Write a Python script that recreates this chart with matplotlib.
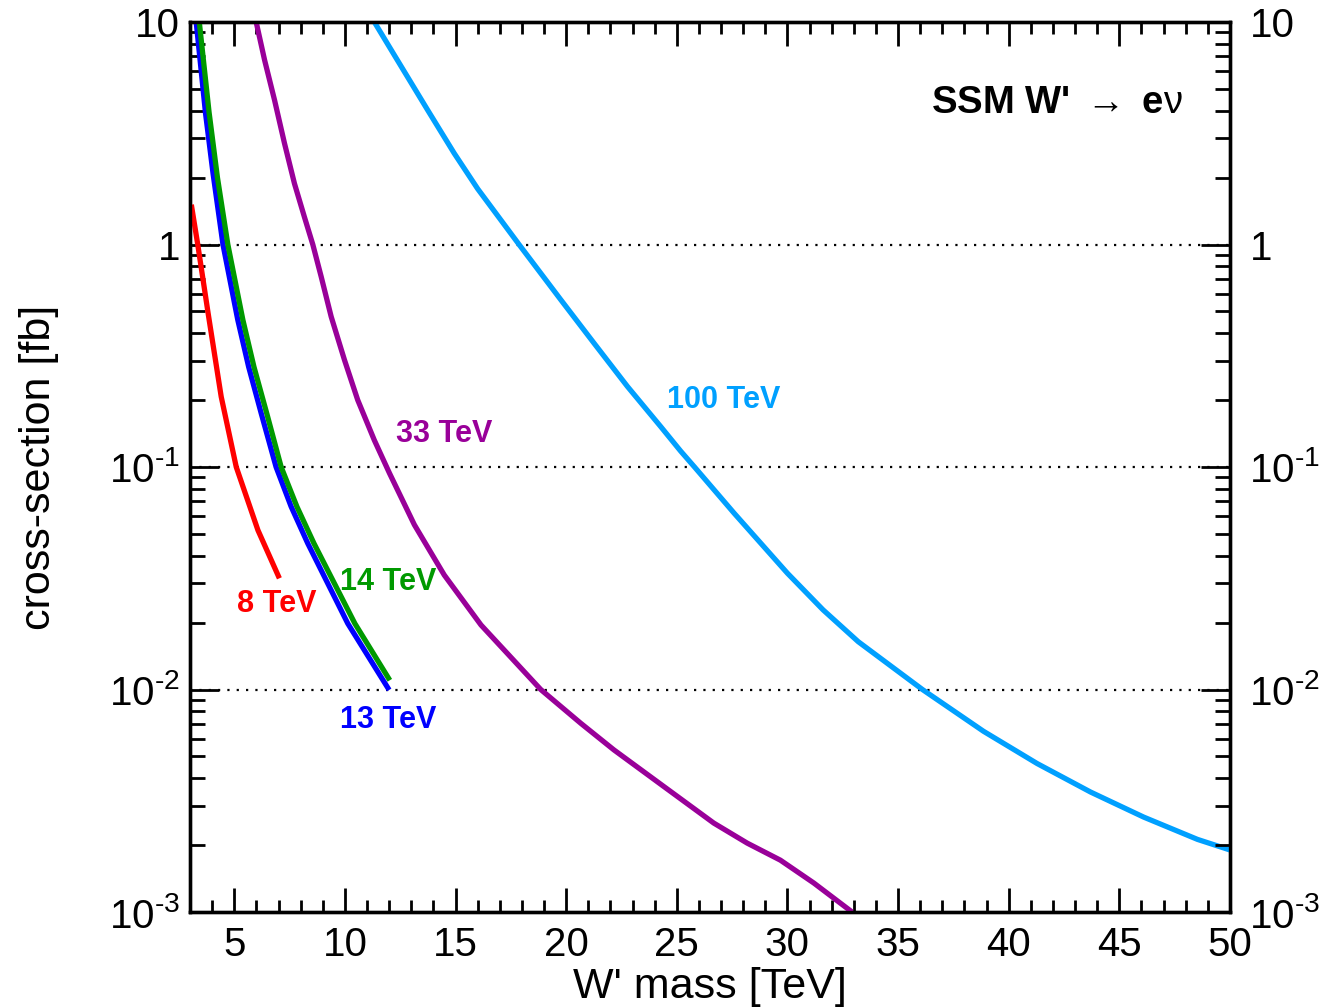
import matplotlib
matplotlib.use("Agg")
import matplotlib.pyplot as plt
from matplotlib.ticker import MultipleLocator, LogLocator, FixedLocator, FixedFormatter, NullFormatter

plt.rcParams['font.family'] = ['Liberation Sans', 'DejaVu Sans']
plt.rcParams['mathtext.fontset'] = 'custom'
plt.rcParams['mathtext.rm'] = 'Liberation Sans'
plt.rcParams['mathtext.it'] = 'Liberation Sans'
plt.rcParams['mathtext.bf'] = 'Liberation Sans:bold'

# W' mass [TeV] vs cross-section [fb]
mass_8 = [3.06, 3.35, 3.82, 4.41, 5.09, 6.07, 7.04]
xsec_8 = [1.51, 1.0, 0.49, 0.207, 0.1, 0.052, 0.0316]

mass_13 = [3.28, 3.7, 4.04, 4.49, 5.16, 5.65, 6.22, 6.89, 7.57, 8.32, 10.13, 12.0]
xsec_13 = [10, 3.9, 2.09, 1.0, 0.458, 0.282, 0.174, 0.1, 0.0664, 0.0454, 0.0198, 0.00995]

mass_14 = [3.42, 3.86, 4.24, 4.71, 5.39, 5.89, 6.47, 7.12, 7.83, 8.6, 10.45, 12.03]
xsec_14 = [10, 3.94, 2.0, 1.0, 0.458, 0.282, 0.174, 0.1, 0.0664, 0.0454, 0.0198, 0.011]

mass_33 = [5.99, 6.37, 6.82, 7.27, 7.72, 8.17, 8.55, 8.93, 9.38, 9.98, 10.58, 11.33,
           12.01, 13.14, 14.49, 16.15, 18.85, 20.66, 22.16, 24.42, 26.67, 28.18,
           29.68, 31.19, 32.92]
xsec_33 = [10, 6.75, 4.46, 2.85, 1.88, 1.33, 1.0, 0.716, 0.474, 0.303, 0.2, 0.132,
           0.094, 0.055, 0.0327, 0.0195, 0.01, 0.00705, 0.00535, 0.00366, 0.00251, 0.00204,
           0.00171, 0.00135, 0.001]

mass_100 = [11.33, 12.23, 13.74, 14.94, 16.0, 17.87, 19.76, 21.26, 22.77, 24.27, 25.17,
            25.8, 27.59, 30.0, 31.61, 33.2, 36.1, 38.86, 41.28, 43.7, 46.1, 48.53, 50.0]
xsec_100 = [10, 7.11, 4.02, 2.57, 1.78, 1.0, 0.564, 0.36, 0.23, 0.152, 0.118,
            0.1, 0.062, 0.0333, 0.0228, 0.0164, 0.01, 0.00649, 0.00465, 0.00346, 0.00267,
            0.00212, 0.0019]

ytick_vals = [1e-3, 1e-2, 1e-1, 1, 10]
ytick_labels = [r'$10^{\text{-}3}$', r'$10^{\text{-}2}$', r'$10^{\text{-}1}$', '1', '10']
grid_vals = [1e-2, 1e-1, 1]

curves = [
    (mass_8, xsec_8, '#ff0000', '8 TeV', 6.9, 0.0242),
    (mass_13, xsec_13, '#0000ff', '13 TeV', 11.95, 0.0073),
    (mass_14, xsec_14, '#009900', '14 TeV', 11.95, 0.0304),
    (mass_33, xsec_33, '#990099', '33 TeV', 14.48, 0.1406),
    (mass_100, xsec_100, '#00a0ff', '100 TeV', 27.1, 0.2),
]

fig = plt.figure(figsize=(13.21, 10.08), dpi=100)
ax = fig.add_axes([190/1321, 1 - 912/1008, 1040/1321, 890/1008])

for y in grid_vals:
    ax.axhline(y, color='black', lw=1.6, ls=(0, (1, 3.2)), zorder=1)

for m, xs, col, lab, lx, ly in curves:
    ax.plot(m, xs, color=col, lw=3.8, solid_capstyle='butt', solid_joinstyle='round', zorder=3)
    ax.text(lx, ly, lab, color=col, fontsize=22, fontweight='bold',
            ha='center', va='center')

ax.text(0.955, 0.909, r"SSM W' $\rightarrow$ e$\nu$", transform=ax.transAxes,
        fontsize=27.5, fontweight='bold', ha='right', va='center')

ax.set_yscale('log')
ax.set_xlim(3, 50)
ax.set_ylim(1e-3, 10)

ax.xaxis.set_major_locator(MultipleLocator(5))
ax.xaxis.set_minor_locator(MultipleLocator(1))
ax.yaxis.set_major_locator(FixedLocator(ytick_vals))
ax.yaxis.set_major_formatter(FixedFormatter(ytick_labels))
ax.yaxis.set_minor_locator(LogLocator(base=10, subs=range(2, 10)))
ax.yaxis.set_minor_formatter(NullFormatter())

for s in ax.spines.values():
    s.set_linewidth(2.4)

ax.tick_params(axis='x', which='major', direction='in', length=17, width=2,
               top=True, labelsize=29, pad=10)
ax.tick_params(axis='x', which='minor', direction='in', length=8.5, width=2, top=True)
ax.tick_params(axis='y', which='major', direction='in', length=21, width=2,
               right=True, labelsize=29, pad=7)
ax.tick_params(axis='y', which='minor', direction='in', length=11, width=2, right=True)

# right-hand labels, set a bit further from the axis
ax2 = ax.twinx()
ax2.set_yscale('log')
ax2.set_ylim(1e-3, 10)
ax2.yaxis.set_major_locator(FixedLocator(ytick_vals))
ax2.yaxis.set_major_formatter(FixedFormatter(ytick_labels))
ax2.yaxis.set_minor_locator(LogLocator(base=10, subs=range(2, 10)))
ax2.yaxis.set_minor_formatter(NullFormatter())
ax2.tick_params(axis='y', which='major', direction='in', length=21, width=2,
                labelsize=29, pad=14)
ax2.tick_params(axis='y', which='minor', direction='in', length=11, width=2)
for s in ax2.spines.values():
    s.set_linewidth(2.4)

ax.set_xlabel("W' mass [TeV]", fontsize=31, labelpad=2)
ax.set_ylabel("cross-section [fb]", fontsize=31, labelpad=36)

fig.savefig("out.png", dpi=100)
